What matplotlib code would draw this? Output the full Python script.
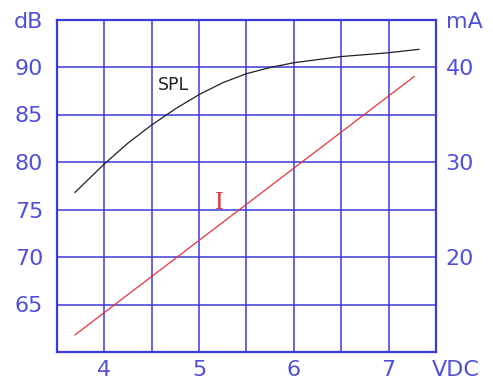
import numpy as np
import matplotlib
matplotlib.use('Agg')
import matplotlib.pyplot as plt

# SPL curve (dB, left axis)
spl_v = [3.69, 4.0, 4.25, 4.5, 4.75, 5.0, 5.25, 5.5, 5.75, 6.0, 6.5, 7.0, 7.32]
spl_db = [76.8, 79.8, 82.0, 83.9, 85.6, 87.1, 88.35, 89.3, 89.95, 90.45, 91.1, 91.5, 91.86]
# current (mA, right axis)
cur_v = [3.69, 7.27]
cur_ma = [11.8, 39.0]

db_ticks = [65, 70, 75, 80, 85, 90, 95]
db_labels = ['65', '70', '75', '80', '85', '90', 'dB']
ma_ticks = [20, 30, 40, 45]
ma_labels = ['20', '30', '40', 'mA']
v_ticks = [3.5, 4, 4.5, 5, 5.5, 6, 6.5, 7, 7.5]
v_labels = ['', '4', '', '5', '', '6', '', '7', '']

blue = '#3a3ad8'
txtblue = '#5050dc'
red = '#e8343c'

plt.rcParams['font.family'] = ['DejaVu Sans']

fig = plt.figure(figsize=(4.93, 3.83), dpi=100)
ax = fig.add_axes([57/493, 1-352/383, 379/493, 332.5/383])
ax.set_xlim(3.5, 7.5)
ax.set_ylim(60, 95)
ax.set_xticks(v_ticks)
ax.set_xticklabels(v_labels)
ax.set_yticks(db_ticks)
ax.set_yticklabels(db_labels)
ax.grid(True, color=blue, lw=1.1)
ax.set_axisbelow(True)
for s in ax.spines.values():
    s.set_color(blue)
    s.set_linewidth(1.6)
ax.tick_params(length=0, labelsize=16, labelcolor=txtblue)
ax.tick_params(axis='y', pad=10)
ax.tick_params(axis='x', pad=5.5)

ax.plot(spl_v, spl_db, color='#202020', lw=0.9)
ax.text(4.73, 88.1, 'SPL', fontsize=12.5, color='#202020', ha='center', va='center')

ax2 = ax.twinx()
ax2.set_ylim(10, 45)
ax2.set_yticks(ma_ticks)
ax2.set_yticklabels(ma_labels)
ax2.tick_params(length=0, labelsize=16, labelcolor=txtblue, pad=7)
for s in ax2.spines.values():
    s.set_visible(False)
ax2.plot(cur_v, cur_ma, color=red, lw=0.9)
ax2.text(5.2, 25.7, 'I', fontsize=19, color=red, family='Liberation Serif',
         ha='center', va='center')

fig.text(456/493, 1-360/383, 'VDC', fontsize=16, color=txtblue, ha='center', va='top')

fig.savefig('out.png', dpi=100)
